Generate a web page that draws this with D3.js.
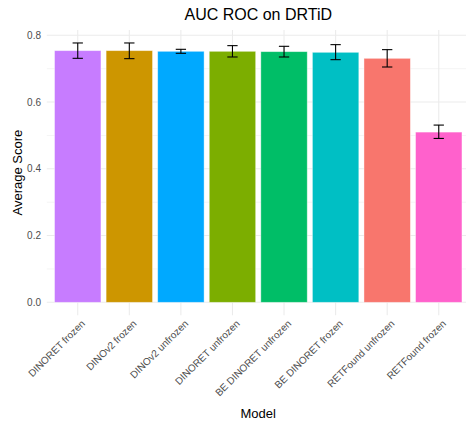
<!DOCTYPE html>
<html><head><meta charset="utf-8">
<script src="https://cdn.jsdelivr.net/npm/d3@7"></script>
<style>body{margin:0;background:#fff;} text{font-family:"Liberation Sans",Arial,sans-serif;}</style>
</head><body>
<svg id="chart" width="466" height="423"></svg>
<script>
const categories = ["DINORET frozen","DINOv2 frozen","DINOv2 unfrozen","DINORET unfrozen","BE DINORET unfrozen","BE DINORET frozen","RETFound unfrozen","RETFound frozen"];
const means = [0.754, 0.754, 0.752, 0.752, 0.751, 0.749, 0.731, 0.510];
const errLow = [0.731, 0.730, 0.746, 0.735, 0.735, 0.727, 0.705, 0.491];
const errHigh = [0.777, 0.777, 0.758, 0.769, 0.767, 0.772, 0.757, 0.531];
const colors = ["#C77CFF","#CD9600","#00A9FF","#7CAE00","#00BE67","#00BFC4","#F8766D","#FF61CC"];
const yTicks = [0, 0.2, 0.4, 0.6, 0.8];
const yMinor = [0.1, 0.3, 0.5, 0.7];

const svg = d3.select("#chart");
const panel = {left: 46.8, right: 469.7, top: 30, bottom: 315.3};

const x = d3.scalePoint().domain(categories).range([panel.left, panel.right]).padding(0.6);
const step = x.step();
const yMaxData = d3.max(errHigh);
const pad = yMaxData * 0.05;
const y = d3.scaleLinear().domain([-pad, yMaxData + pad]).range([panel.bottom, panel.top]);

const g = svg.append("g");
// minor grid
g.selectAll(".minor").data(yMinor).join("line")
  .attr("x1", panel.left).attr("x2", panel.right)
  .attr("y1", d => y(d)).attr("y2", d => y(d))
  .attr("stroke", "#EBEBEB").attr("stroke-width", 0.55);
// major grid
g.selectAll(".major").data(yTicks).join("line")
  .attr("x1", panel.left).attr("x2", panel.right)
  .attr("y1", d => y(d)).attr("y2", d => y(d))
  .attr("stroke", "#EBEBEB").attr("stroke-width", 1.07);
g.selectAll(".vgrid").data(categories).join("line")
  .attr("x1", d => x(d)).attr("x2", d => x(d))
  .attr("y1", panel.top).attr("y2", panel.bottom)
  .attr("stroke", "#EBEBEB").attr("stroke-width", 1.07);

// bars
const bw = step * 0.9;
g.selectAll(".bar").data(categories).join("rect")
  .attr("x", d => x(d) - bw/2)
  .attr("width", bw)
  .attr("y", (d,i) => y(means[i]))
  .attr("height", (d,i) => y(0) - y(means[i]))
  .attr("fill", (d,i) => colors[i])
  .attr("stroke", "#ffffff").attr("stroke-opacity", 0.5).attr("stroke-width", 0.8);

// error bars
const ew = step * 0.2;
const eb = g.selectAll(".eb").data(categories).join("g");
eb.append("line").attr("x1", d => x(d)).attr("x2", d => x(d))
  .attr("y1", (d,i) => y(errLow[i])).attr("y2", (d,i) => y(errHigh[i]));
eb.append("line").attr("x1", d => x(d) - ew/2).attr("x2", d => x(d) + ew/2)
  .attr("y1", (d,i) => y(errLow[i])).attr("y2", (d,i) => y(errLow[i]));
eb.append("line").attr("x1", d => x(d) - ew/2).attr("x2", d => x(d) + ew/2)
  .attr("y1", (d,i) => y(errHigh[i])).attr("y2", (d,i) => y(errHigh[i]));
eb.selectAll("line").attr("stroke", "#000").attr("stroke-width", 1.1);

// y axis labels
g.selectAll(".ytl").data(yTicks).join("text")
  .attr("x", 41).attr("y", d => y(d)).attr("dy", "0.35em")
  .attr("text-anchor", "end").attr("font-size", 10).attr("fill", "#4D4D4D")
  .text(d => d3.format(".1f")(d));

// x axis labels
g.selectAll(".xtl").data(categories).join("text")
  .attr("transform", d => `translate(${x(d) + 3},${panel.bottom + 4}) rotate(-45)`)
  .attr("text-anchor", "end").attr("dy", "0.7em")
  .attr("font-size", 10).attr("fill", "#4D4D4D")
  .text(d => d);

// titles
svg.append("text").attr("x", (panel.left + panel.right)/2).attr("y", 20)
  .attr("text-anchor", "middle").attr("font-size", 16).attr("fill", "#000")
  .text("AUC ROC on DRTiD");
svg.append("text").attr("x", (panel.left + panel.right)/2).attr("y", 418)
  .attr("text-anchor", "middle").attr("font-size", 13).attr("fill", "#000")
  .text("Model");
svg.append("text").attr("transform", `translate(21.5,${(panel.top + panel.bottom)/2}) rotate(-90)`)
  .attr("text-anchor", "middle").attr("font-size", 13).attr("fill", "#000")
  .text("Average Score");
</script>
</body></html>
